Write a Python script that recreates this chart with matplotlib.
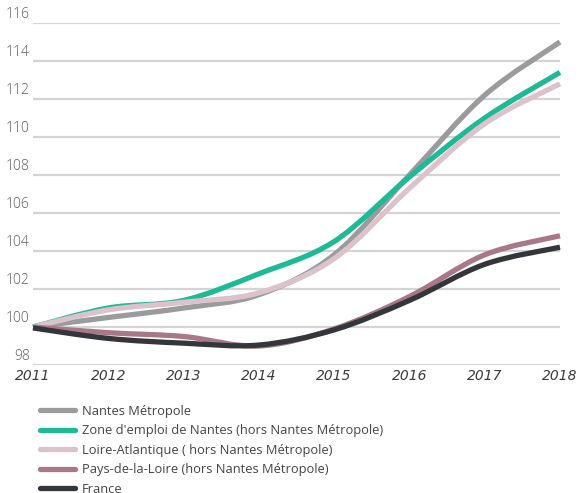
import matplotlib
matplotlib.use("Agg")
import matplotlib.pyplot as plt
from matplotlib.path import Path
from matplotlib.patches import PathPatch
from matplotlib.lines import Line2D
import numpy as np

years = [2011, 2012, 2013, 2014, 2015, 2016, 2017, 2018]

nantes_metropole = [100.0, 100.5, 101.0, 101.7, 103.8, 108.0, 112.2, 115.0]
zone_emploi = [100.0, 101.0, 101.4, 102.8, 104.5, 107.9, 111.0, 113.4]
loire_atlantique = [100.0, 100.9, 101.3, 101.8, 103.6, 107.3, 110.7, 112.8]
pays_de_la_loire = [100.0, 99.7, 99.5, 99.0, 99.9, 101.6, 103.8, 104.8]
france = [99.95, 99.4, 99.15, 99.05, 99.85, 101.4, 103.3, 104.2]

labels = ["Nantes Métropole",
          "Zone d'emploi de Nantes (hors Nantes Métropole)",
          "Loire-Atlantique ( hors Nantes Métropole)",
          "Pays-de-la-Loire (hors Nantes Métropole)",
          "France"]
colors = ["#999b9c", "#1dba95", "#dcc3cb", "#a87888", "#33363a"]
series = [nantes_metropole, zone_emploi, loire_atlantique, pays_de_la_loire, france]

y_ticks = [98, 100, 102, 104, 106, 108, 110, 112, 114, 116]


def smooth_path(x, y):
    # catmull-rom through the points, drawn as cubic bezier segments
    x = np.asarray(x, float)
    y = np.asarray(y, float)
    pts = np.column_stack([x, y])
    verts = [pts[0]]
    codes = [Path.MOVETO]
    n = len(pts)
    for i in range(n - 1):
        p0 = pts[i - 1] if i > 0 else pts[i]
        p1 = pts[i]
        p2 = pts[i + 1]
        p3 = pts[i + 2] if i + 2 < n else pts[i + 1]
        c1 = p1 + (p2 - p0) / 6.0
        c2 = p2 - (p3 - p1) / 6.0
        verts += [c1, c2, p2]
        codes += [Path.CURVE4] * 3
    return Path(verts, codes)


fig = plt.figure(figsize=(5.87, 4.93), dpi=100)
ax = fig.add_axes([33 / 587, 1 - 365 / 493, (560 - 33) / 587, (365 - 23) / 493])

ax.set_xlim(2011, 2018)
ax.set_ylim(98, 116)

for v in y_ticks:
    ax.axhline(v, color="#d4d4d4", lw=1.6, zorder=0)
    ax.text(-0.006, v + 0.05, str(v), transform=ax.get_yaxis_transform(),
            ha="right", va="bottom", fontsize=10, color="#5a5a5a",
            family="Open Sans", fontweight="light")

for vals, c in zip(series, colors):
    patch = PathPatch(smooth_path(years, vals), facecolor="none", edgecolor=c,
                      lw=3.8, capstyle="butt", zorder=3, clip_on=False)
    ax.add_patch(patch)

for yr in years:
    ax.text(yr, -0.012, str(yr), transform=ax.get_xaxis_transform(),
            ha="center", va="top", fontsize=10, color="#3a3a3a",
            style="italic", family="DejaVu Sans")

ax.set_xticks([])
ax.set_yticks([])
for s in ax.spines.values():
    s.set_visible(False)

handles = [Line2D([0], [0], color=c, lw=3.8, solid_capstyle="round") for c in colors]
fig.legend(handles, labels, loc="upper left", bbox_to_anchor=(40 / 587, 1 - 405 / 493),
           frameon=False, handlelength=2.7, handletextpad=0.55,
           labelspacing=0.5, borderpad=0, borderaxespad=0,
           prop={"family": "Open Sans", "size": 9.3})
for t in fig.legends[0].get_texts():
    t.set_color("#444444")

fig.savefig("out.png", dpi=100)
